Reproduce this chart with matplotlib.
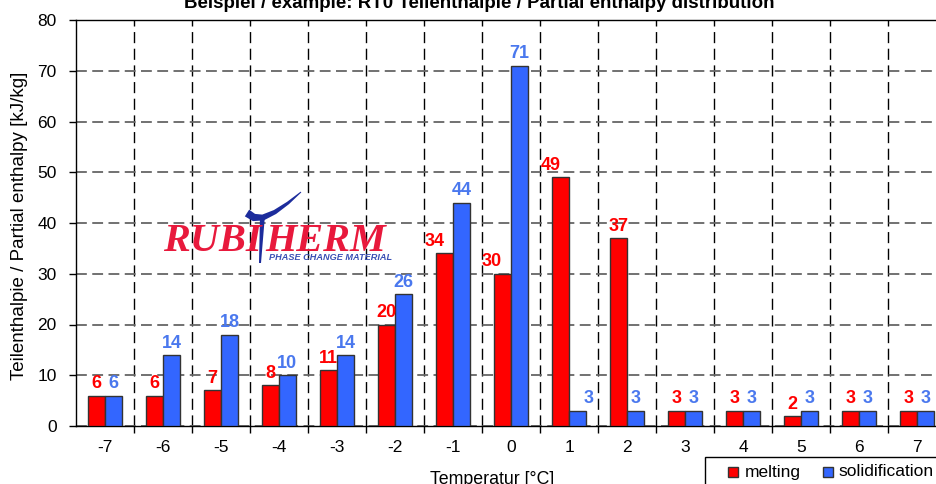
import matplotlib
matplotlib.use("Agg")
import matplotlib.pyplot as plt
from matplotlib.patches import Rectangle, Polygon
import numpy as np

# donnees
temperatures = ["-7", "-6", "-5", "-4", "-3", "-2", "-1", "0", "1", "2", "3", "4", "5", "6", "7"]
melting = [6, 6, 7, 8, 11, 20, 34, 30, 49, 37, 3, 3, 2, 3, 3]
solidification = [6, 14, 18, 10, 14, 26, 44, 71, 3, 3, 3, 3, 3, 3, 3]
series_names = ["melting", "solidification"]

RED = "#FF0000"
BLUE = "#3366FF"
BLUE_TXT = "#4A78EE"

plt.rcParams["font.family"] = ["Liberation Sans", "DejaVu Sans"]

W, H = 936, 484
fig = plt.figure(figsize=(W / 100, H / 100), dpi=100)

def px(x, y):
    # pixels de l'image -> coordonnees figure
    return np.asarray(x) / W, 1 - np.asarray(y) / H

ax = fig.add_axes([76 / W, 58 / H, 870 / W, 406 / H])

x = np.arange(len(temperatures))
w = 0.29
ax.bar(x - w / 2, melting, w, color=RED, edgecolor="#333333", linewidth=1, zorder=3)
ax.bar(x + w / 2, solidification, w, color=BLUE, edgecolor="#333333", linewidth=1, zorder=3)

# petits decalages des etiquettes (en points) comme sur l'original
dx_red = {6: -7, 7: -8, 8: -7}
dx_blue = {8: 8}
for i in range(len(x)):
    ax.annotate(str(melting[i]), (x[i] - w / 2, melting[i]),
                xytext=(dx_red.get(i, 0), 8.5), textcoords="offset points",
                ha="center", va="center", color=RED, fontsize=13,
                fontweight="bold", zorder=5)
    ax.annotate(str(solidification[i]), (x[i] + w / 2, solidification[i]),
                xytext=(dx_blue.get(i, 0), 8.5), textcoords="offset points",
                ha="center", va="center", color=BLUE_TXT, fontsize=13,
                fontweight="bold", zorder=5)

ax.set_xlim(-0.5, len(x) - 0.5)
ax.set_ylim(0, 80)
ax.set_yticks(np.arange(0, 81, 10))
ax.set_xticks(x)
ax.set_xticklabels(temperatures)
ax.set_xticks(x[:-1] + 0.5, minor=True)
ax.tick_params(axis="x", which="major", length=0, pad=10, labelsize=12.5)
ax.tick_params(axis="x", which="minor", length=5, direction="out", width=1)
ax.tick_params(axis="y", length=5, direction="out", width=1, pad=9, labelsize=12.5)

ax.grid(axis="y", which="major", linestyle=(0, (6, 3)), color="#666666", linewidth=1.3, zorder=1)
ax.grid(axis="x", which="minor", linestyle=(0, (8, 4)), color="black", linewidth=1.0, zorder=1)
for s in ax.spines.values():
    s.set_color("black")
    s.set_linewidth(1)

ax.set_ylabel("Teilenthalpie / Partial enthalpy [kJ/kg]", fontsize=13.5)
ax.yaxis.set_label_coords(-0.055, 0.493)

fig.text(*px(492, 479), "Temperatur [°C]", ha="center", va="center", fontsize=12.8)
fig.text(*px(479, 8), "Beispiel / example: RT0 Teilenthalpie / Partial enthalpy distribution",
         ha="center", va="baseline", fontsize=13.5, fontweight="bold")

# legende en bas a droite (dessinee a la main)
fig.add_artist(Rectangle(px(705, 500), 260 / W, 43 / H, transform=fig.transFigure,
                         facecolor="white", edgecolor="black", linewidth=1, zorder=6))
for sx, tx, col, name in [(728, 745, RED, series_names[0]), (823, 838, BLUE, series_names[1])]:
    fig.add_artist(Rectangle(px(sx, 477), 10 / W, 10 / H, transform=fig.transFigure,
                             facecolor=col, edgecolor="#333333", linewidth=1, zorder=7))
    fig.text(*px(tx, 472), name, ha="left", va="center", fontsize=12.5, zorder=7)

# logo Rubitherm
logo_red = "#E8193C"
logo_blue = "#1C2C9C"
fig.text(*px(163, 251), "RUBI", color=logo_red, fontsize=29, family="Liberation Serif",
         fontweight="bold", style="italic", va="baseline", ha="left")
fig.text(*px(265, 251), "HERM", color=logo_red, fontsize=29, family="Liberation Serif",
         fontweight="bold", style="italic", va="baseline", ha="left")

# le "T" bleu : barre en forme de virgule + jambage
cx = np.array([247, 254, 263, 275, 288, 301.0])
cy = np.array([213, 217.5, 217.5, 212, 203, 192.0])
thick = np.array([8, 7.5, 6, 4.5, 3, 1.0])
dx = np.gradient(cx)
dy = np.gradient(cy)
n = np.hypot(dx, dy)
nx, ny = -dy / n, dx / n
up = np.column_stack([cx + nx * thick / 2, cy + ny * thick / 2])
lo = np.column_stack([cx - nx * thick / 2, cy - ny * thick / 2])
pts = np.vstack([up, lo[::-1]])
fig.add_artist(Polygon(np.column_stack(px(pts[:, 0], pts[:, 1])), closed=True,
                       transform=fig.transFigure, facecolor=logo_blue, edgecolor="none"))
stem = np.array([[260, 215], [265, 215], [261, 263], [259, 263]])
fig.add_artist(Polygon(np.column_stack(px(stem[:, 0], stem[:, 1])), closed=True,
                       transform=fig.transFigure, facecolor=logo_blue, edgecolor="none"))
fig.text(*px(269, 258), "PHASE CHANGE MATERIAL", color="#3A50B4", fontsize=6.6,
         fontweight="bold", style="italic", va="center", ha="left")

fig.savefig("out.png", dpi=100)
